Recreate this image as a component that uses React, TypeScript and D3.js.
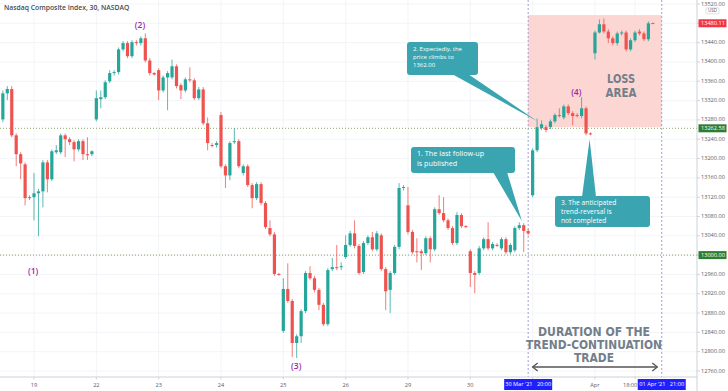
import * as d3 from 'd3'

type Bar = [number, number, number, number] // open, high, low, close

const WIDTH = 728
const HEIGHT = 391
const AXIS_X = 697
const AXIS_Y = 377

const MAR_18: Bar[] = [
  [13281, 13341, 13275, 13335], [13335, 13350, 13321, 13344], [13344, 13350, 13244, 13248],
  [13248, 13252, 13184, 13209], [13209, 13213, 13157, 13190], [13188, 13192, 13103, 13118],
  [13120, 13124, 13114, 13118],
]
const MAR_19: Bar[] = [
  [13120, 13170, 13072, 13128], [13128, 13137, 13039, 13132], [13132, 13197, 13099, 13192],
  [13192, 13197, 13130, 13157], [13157, 13219, 13153, 13215], [13213, 13228, 13209, 13217],
  [13213, 13252, 13209, 13248], [13248, 13252, 13203, 13240], [13240, 13244, 13228, 13234],
  [13234, 13238, 13194, 13219], [13219, 13240, 13215, 13236], [13236, 13240, 13197, 13209],
  [13209, 13244, 13197, 13208], [13209, 13217, 13205, 13215],
]
const MAR_22: Bar[] = [
  [13281, 13341, 13277, 13325], [13323, 13341, 13304, 13327], [13327, 13362, 13323, 13358],
  [13360, 13383, 13356, 13377], [13377, 13383, 13372, 13379], [13379, 13430, 13374, 13426],
  [13426, 13443, 13422, 13439], [13439, 13443, 13408, 13412], [13412, 13445, 13408, 13441],
  [13441, 13445, 13434, 13439], [13439, 13453, 13434, 13449], [13449, 13459, 13399, 13403],
  [13403, 13408, 13372, 13377], [13377, 13379, 13372, 13374],
]
const MAR_23: Bar[] = [
  [13383, 13387, 13321, 13341], [13341, 13372, 13337, 13368], [13368, 13381, 13300, 13377],
  [13368, 13405, 13364, 13391], [13391, 13395, 13345, 13350], [13352, 13356, 13323, 13341],
  [13341, 13368, 13337, 13364], [13364, 13389, 13358, 13363], [13362, 13366, 13321, 13325],
  [13325, 13348, 13321, 13343], [13343, 13348, 13269, 13273], [13273, 13285, 13217, 13232],
  [13228, 13232, 13223, 13227], [13228, 13236, 13223, 13232],
]
const MAR_24: Bar[] = [
  [13290, 13296, 13180, 13184], [13184, 13188, 13139, 13165], [13165, 13236, 13155, 13232],
  [13234, 13263, 13230, 13236], [13236, 13240, 13180, 13184], [13170, 13188, 13165, 13184],
  [13184, 13188, 13141, 13145], [13145, 13149, 13097, 13118], [13118, 13151, 13114, 13147],
  [13147, 13151, 13103, 13108], [13108, 13112, 13054, 13058], [13056, 13072, 13039, 13043],
  [13043, 13048, 12957, 12961], [12961, 12963, 12957, 12959],
]
const MAR_25: Bar[] = [
  [12843, 12952, 12839, 12930], [12930, 12983, 12901, 12905], [12905, 12909, 12789, 12818],
  [12818, 12836, 12787, 12832], [12832, 12888, 12818, 12884], [12884, 12967, 12880, 12963],
  [12963, 12977, 12948, 12952], [12952, 12957, 12923, 12928], [12928, 12932, 12886, 12897],
  [12897, 12901, 12853, 12857], [12857, 12973, 12853, 12969], [12971, 12994, 12967, 12975],
  [12975, 13021, 12969, 12974], [12975, 12985, 12969, 12977],
]
const MAR_26: Bar[] = [
  [12996, 13041, 12992, 13021], [13021, 13050, 13017, 13045], [13045, 13072, 13014, 13019],
  [13019, 13023, 12959, 12963], [12965, 13029, 12961, 13025], [13025, 13041, 13021, 13037],
  [13037, 13048, 13008, 13012], [13012, 13050, 13008, 13045], [13041, 13045, 12967, 12971],
  [12971, 12975, 12886, 12925], [12928, 12967, 12880, 12963], [12963, 13021, 12959, 13017],
  [13017, 13149, 13012, 13139], [13141, 13145, 13134, 13139],
]
const MAR_29: Bar[] = [
  [13103, 13141, 13043, 13048], [13048, 13052, 13002, 13006], [13008, 13035, 12985, 13007],
  [13008, 13012, 12969, 13004], [13004, 13039, 13000, 13035], [13035, 13039, 12985, 13012],
  [13012, 13099, 13008, 13095], [13095, 13124, 13083, 13087], [13087, 13120, 13068, 13072],
  [13072, 13076, 13052, 13056], [13056, 13060, 13021, 13025], [13025, 13089, 13021, 13083],
  [13083, 13087, 13056, 13060], [13060, 13062, 13056, 13058],
]
const MAR_30: Bar[] = [
  [13008, 13012, 12934, 12963], [12963, 12967, 12921, 12959], [12963, 13019, 12959, 13014],
  [13014, 13037, 13010, 13033], [13033, 13068, 13010, 13014], [13014, 13027, 13010, 13023],
  [13021, 13025, 13017, 13020], [13014, 13037, 13010, 13033], [13033, 13037, 13002, 13006],
  [13006, 13025, 13002, 13021], [13010, 13060, 13006, 13056], [13056, 13068, 13052, 13062],
  [13062, 13066, 13006, 13050], [13050, 13054, 13041, 13045],
]
const MAR_31: Bar[] = [
  [13124, 13221, 13120, 13217], [13217, 13283, 13213, 13265], [13263, 13279, 13259, 13271],
  [13265, 13269, 13254, 13259], [13265, 13281, 13261, 13277], [13277, 13294, 13273, 13290],
  [13290, 13304, 13285, 13289], [13285, 13312, 13281, 13308], [13308, 13312, 13290, 13294],
  [13294, 13298, 13269, 13288], [13290, 13294, 13285, 13289], [13288, 13327, 13283, 13304],
  [13304, 13308, 13248, 13252], [13252, 13254, 13248, 13250],
]
const APR_01: Bar[] = [
  [13418, 13465, 13405, 13461], [13461, 13488, 13459, 13478], [13478, 13490, 13459, 13463],
  [13463, 13468, 13439, 13449], [13449, 13453, 13434, 13439], [13439, 13463, 13434, 13459],
  [13459, 13465, 13455, 13461], [13461, 13465, 13422, 13426], [13426, 13449, 13422, 13445],
  [13445, 13465, 13441, 13461], [13463, 13468, 13455, 13459], [13459, 13463, 13443, 13447],
  [13447, 13484, 13443, 13480], [13480.5, 13481.5, 13479, 13480.11],
]

const SESSIONS = [
  { label: '', bars: MAR_18 },
  { label: '19', bars: MAR_19 },
  { label: '22', bars: MAR_22 },
  { label: '23', bars: MAR_23 },
  { label: '24', bars: MAR_24 },
  { label: '25', bars: MAR_25 },
  { label: '26', bars: MAR_26 },
  { label: '29', bars: MAR_29 },
  { label: '30', bars: MAR_30 },
  { label: '31', bars: MAR_31 },
  { label: 'Apr', bars: APR_01 },
]

const PRICE_TICKS = d3.range(12760, 13521, 40)
const LEVELS = [13262.58, 13000]
const LAST_PRICE = 13480.11
const TRADE_START = 118 // 30 Mar '21 20:00
const TRADE_END = 148 // 01 Apr '21 21:00
const LOSS_TOP = 13497
const LOSS_BOTTOM = 13265
const INTRADAY_TICK = { label: '18:00', bar: 142 }
// day labels that sit under the blue time badges are not shown
const HIDDEN_TICKS = ['31']

const WAVES = [
  { text: '(1)', bar: 6.8, price: 12965 },
  { text: '(2)', bar: 30.8, price: 13474 },
  { text: '(3)', bar: 65.9, price: 12768 },
  { text: '(4)', bar: 128.8, price: 13337 },
]

const CALLOUTS = [
  { box: [411, 147, 104, 26], lines: ['1. The last follow-up', 'is published'], size: 7.2, gap: 10, base: [493, 507, 172], tip: [116.6, 13070] },
  { box: [407, 42, 71, 33], lines: ['2. Expectedly, the', 'price climbs to', '1362.00'], size: 6, gap: 8, base: [452, 468, 74], tip: [120.1, 13277] },
  { box: [555, 196, 95, 31], lines: ['3. The anticipated', 'trend-reversal is', 'not completed'], size: 6.7, gap: 9, base: [582, 596, 197], tip: [131.8, 13240] },
]

const UP = '#26a69a'
const DOWN = '#ef5350'
const GRID = '#eff1f6'
const FONT = "'Open Sans', 'DejaVu Sans', sans-serif"
const BIG_FONT = "'DejaVu Sans Condensed', 'Liberation Sans', sans-serif"

export default function App() {
  const bars = SESSIONS.flatMap((s) => s.bars)
  const dayTicks: { label: string; bar: number }[] = []
  let start = 0
  SESSIONS.forEach((s) => {
    if (s.label) dayTicks.push({ label: s.label, bar: start })
    start += s.bars.length
  })

  const x = d3.scaleLinear().domain([-0.64, 155.92]).range([0, AXIS_X])
  const y = d3.scaleLinear().domain([12760, 13520]).range([371, 4])
  const bodyW = 3.2

  return (
    <svg
      width={WIDTH}
      height={HEIGHT}
      viewBox={`0 0 ${WIDTH} ${HEIGHT}`}
      style={{ position: 'absolute', left: 0, top: 0, background: '#fff' }}
      fontFamily={FONT}
    >
      <rect width={WIDTH} height={HEIGHT} fill="#fff" />

      {/* grid */}
      {PRICE_TICKS.map((t) => (
        <line key={t} x1={0} x2={AXIS_X} y1={y(t)} y2={y(t)} stroke={GRID} strokeWidth={0.8} />
      ))}
      {[...dayTicks, INTRADAY_TICK].map((d) => (
        <line key={d.label} x1={x(d.bar)} x2={x(d.bar)} y1={0} y2={AXIS_Y} stroke={GRID} strokeWidth={0.8} />
      ))}

      {/* loss area */}
      <rect
        x={x(TRADE_START)}
        y={y(LOSS_TOP)}
        width={x(TRADE_END) - x(TRADE_START)}
        height={y(LOSS_BOTTOM) - y(LOSS_TOP)}
        fill="#fbd6d2"
      />
      <g fill="#737e8b" fontFamily={BIG_FONT} fontWeight={600} fontSize={13} textAnchor="middle">
        <text x={621} y={83} textLength={28} lengthAdjust="spacingAndGlyphs">LOSS</text>
        <text x={621} y={97} textLength={31} lengthAdjust="spacingAndGlyphs">AREA</text>
      </g>

      {/* level lines */}
      {LEVELS.map((l) => (
        <line key={l} x1={0} x2={AXIS_X} y1={y(l)} y2={y(l)} stroke="#7c9d52" strokeWidth={0.9} strokeDasharray="1 2" />
      ))}

      {/* trade window */}
      {[TRADE_START, TRADE_END].map((b) => (
        <line key={b} x1={x(b)} x2={x(b)} y1={0} y2={AXIS_Y} stroke="#9494d6" strokeWidth={0.9} strokeDasharray="2 2" />
      ))}

      {/* candles */}
      {bars.map(([o, h, l, c], i) => {
        const color = c >= o ? UP : DOWN
        const top = y(Math.max(o, c))
        const bh = Math.max(1, Math.abs(y(o) - y(c)))
        return (
          <g key={i}>
            <line x1={x(i)} x2={x(i)} y1={y(h)} y2={y(l)} stroke={color} strokeWidth={0.9} strokeOpacity={0.85} />
            <rect x={x(i) - bodyW / 2} y={top} width={bodyW} height={bh} fill={color} />
          </g>
        )
      })}

      {/* wave labels */}
      {WAVES.map((w) => (
        <text key={w.text} x={x(w.bar)} y={y(w.price)} fill="#9c27b0" fontSize={8.5} fontWeight={600} textAnchor="middle" dominantBaseline="middle">
          {w.text}
        </text>
      ))}

      {/* callouts */}
      {CALLOUTS.map((co, k) => {
        const [bx, by, bw, bhh] = co.box
        const [b1, b2, baseY] = co.base
        const tx = x(co.tip[0])
        const ty = y(co.tip[1])
        return (
          <g key={k}>
            <path d={`M${b1},${baseY} L${tx},${ty} L${b2},${baseY} Z`} fill="#3aa5b1" />
            <rect x={bx} y={by} width={bw} height={bhh} rx={3} fill="#3aa5b1" />
            {co.lines.map((line, j) => (
              <text key={j} x={bx + 6} y={by + 8.5 + j * co.gap} fill="#fff" fontSize={co.size}>
                {line}
              </text>
            ))}
          </g>
        )
      })}

      {/* duration text + arrow */}
      <g fill="#737e8b" fontFamily={BIG_FONT} fontWeight={600} fontSize={12.5} textAnchor="middle">
        <text x={594} y={336} textLength={112} lengthAdjust="spacingAndGlyphs">DURATION OF THE</text>
        <text x={594} y={349} textLength={136} lengthAdjust="spacingAndGlyphs">TREND-CONTINUATION</text>
        <text x={594} y={362} textLength={40} lengthAdjust="spacingAndGlyphs">TRADE</text>
      </g>
      <g stroke="#555" strokeWidth={1.3} fill="none">
        <line x1={x(119)} x2={x(147)} y1={367} y2={367} />
        <polyline points={`${x(119) + 5},363 ${x(119)},367 ${x(119) + 5},371`} />
        <polyline points={`${x(147) - 5},363 ${x(147)},367 ${x(147) - 5},371`} />
      </g>

      {/* title */}
      <text x={4} y={10} fontSize={6.8} fontWeight={600} fill="#4a4a4a">
        Nasdaq Composite Index, 30, NASDAQ
      </text>

      {/* axes */}
      <rect x={AXIS_X} y={0} width={WIDTH - AXIS_X} height={HEIGHT} fill="#fff" />
      <rect x={0} y={AXIS_Y} width={AXIS_X} height={HEIGHT - AXIS_Y} fill="#fff" />
      <line x1={AXIS_X} x2={AXIS_X} y1={0} y2={HEIGHT} stroke="#c9ccd4" strokeWidth={0.9} />
      <line x1={0} x2={AXIS_X} y1={AXIS_Y} y2={AXIS_Y} stroke="#c9ccd4" strokeWidth={0.9} />
      {PRICE_TICKS.map((t) => (
        <g key={t}>
          <line x1={AXIS_X} x2={AXIS_X + 3} y1={y(t)} y2={y(t)} stroke="#c9ccd4" strokeWidth={0.8} />
          <text x={AXIS_X + 4} y={y(t) + (t === 13520 ? 0.5 : 0)} fontSize={5.6} fill="#5a5d66" dominantBaseline="middle">
            {t.toFixed(2)}
          </text>
        </g>
      ))}
      <rect x={706} y={7.8} width={13} height={6} fill="#fff" stroke="#c9ccd4" strokeWidth={0.6} rx={1} />
      <text x={712.5} y={11} fontSize={4.4} fill="#5a5d66" textAnchor="middle" dominantBaseline="middle">USD</text>

      {dayTicks.map((d) => (
        <g key={d.label}>
          <line x1={x(d.bar)} x2={x(d.bar)} y1={AXIS_Y} y2={AXIS_Y + 2.5} stroke="#c9ccd4" strokeWidth={0.8} />
          {!HIDDEN_TICKS.includes(d.label) && (
            <text x={x(d.bar)} y={386.5} fontSize={5.6} fill="#5a5d66" textAnchor="middle">
              {d.label}
            </text>
          )}
        </g>
      ))}
      <line x1={x(INTRADAY_TICK.bar)} x2={x(INTRADAY_TICK.bar)} y1={AXIS_Y} y2={AXIS_Y + 2.5} stroke="#c9ccd4" strokeWidth={0.8} />
      <text x={x(TRADE_END) - 24.5} y={386.5} fontSize={5.6} fill="#5a5d66" textAnchor="end">
        {INTRADAY_TICK.label}
      </text>

      {/* price labels */}
      <rect x={AXIS_X + 1.5} y={y(LAST_PRICE) - 4} width={28} height={8} fill="#f23645" />
      <text x={AXIS_X + 4} y={y(LAST_PRICE) + 0.3} fontSize={5.6} fill="#fff" dominantBaseline="middle">
        {LAST_PRICE.toFixed(2)}
      </text>
      {LEVELS.map((l) => (
        <g key={l}>
          <rect x={AXIS_X + 1.5} y={y(l) - 4} width={28} height={8} fill="#2e7d32" />
          <text x={AXIS_X + 4} y={y(l) + 0.3} fontSize={5.6} fill="#fff" dominantBaseline="middle">
            {l.toFixed(2)}
          </text>
        </g>
      ))}

      {/* trade window time labels */}
      {[
        { bar: TRADE_START, text: "30 Mar '21   20:00" },
        { bar: TRADE_END, text: "01 Apr '21   21:00" },
      ].map((t) => (
        <g key={t.bar}>
          <rect x={x(t.bar) - 24} y={379} width={48} height={11} fill="#1f1fff" />
          <text x={x(t.bar)} y={386.3} fontSize={5.6} fill="#fff" textAnchor="middle" xmlSpace="preserve">
            {t.text}
          </text>
        </g>
      ))}
    </svg>
  )
}
